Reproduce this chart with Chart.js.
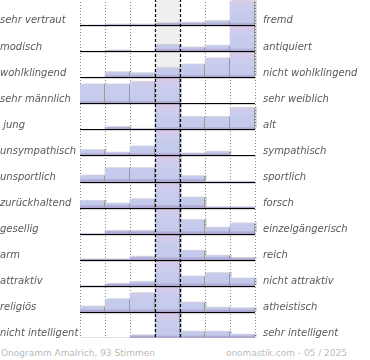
<!DOCTYPE html>
<html>
<head>
<meta charset="utf-8">
<script src="https://cdn.jsdelivr.net/npm/chart.js@4.4.0/dist/chart.umd.min.js"></script>
<style>
    html, body { margin: 0; padding: 0; background: #fff; }
    #wrap { position: relative; width: 370px; height: 360px; overflow: hidden; font-family: "DejaVu Sans", sans-serif; }
    #chart-box { position: absolute; left: 0; top: -1px; width: 370px; height: 339px; }
    .footer { position: absolute; top: 347px; font-size: 9px; line-height: 12px; color: #bbb; white-space: nowrap; }
</style>
</head>
<body>
<div id="wrap">
    <div id="chart-box"><canvas id="onogramm"></canvas></div>
    <div class="footer" style="left:1px">Onogramm Amalrich, 93 Stimmen</div>
    <div class="footer" style="right:23px">onomastik.com - 05 / 2025</div>
</div>
<script>
const COLUMNS = ['1', '2', '3', '4', '5', '6', '7'];

const LEFT_LABELS = [
    'sehr vertraut', 'modisch', 'wohlklingend', 'sehr männlich', ' jung',
    'unsympathisch', 'unsportlich', 'zurückhaltend', 'gesellig', 'arm',
    'attraktiv', 'religiös', 'nicht intelligent'
];

const RIGHT_LABELS = [
    'fremd', 'antiquiert', 'nicht wohlklingend', 'sehr weiblich', 'alt',
    'sympathisch', 'sportlich', 'forsch', 'einzelgängerisch', 'reich',
    'nicht attraktiv', 'atheistisch', 'sehr intelligent'
];

// share of votes per column (percent), one array per row
const VALUES = [
    [0, 0.8, 0.8, 2.6, 3.5, 6.2, 37],
    [0, 1, 0, 9.2, 5.7, 8.2, 48],
    [0, 7.7, 6.2, 13.8, 19.5, 29, 45],
    [29, 29, 33, 52, 0, 0, 0],
    [0, 3.5, 0.8, 55, 19, 19, 33],
    [8.2, 4.2, 13.8, 58, 3, 5.7, 0],
    [9.2, 20.5, 20.5, 48, 8.2, 0, 0],
    [10.3, 6.2, 12.8, 50, 15.4, 0.8, 0.8],
    [0, 4.2, 4.2, 46, 21, 9.2, 15.8],
    [0.8, 0.8, 4.6, 50, 13.8, 6.2, 2.6],
    [0, 3, 6.2, 47, 14.3, 19.5, 11.2],
    [8.2, 19.5, 28.8, 42, 14.3, 6.6, 5.7],
    [0, 0, 4.2, 53, 9.7, 9.7, 5]
];

const SCALE_MAX = 40;      // percent that fills a whole row
const ROWS = VALUES.length;
const LABEL_OFFSET = 0.16; // labels sit just above each row's baseline
const MIDDLE = 3;

function rowBase(i) {
    return ROWS - 1 - i;
}

function barColor(ctx) {
    const chart = ctx.chart;
    if (!chart.chartArea) return '#c6cbeb';
    const y = chart.scales.y;
    const base = rowBase(ctx.datasetIndex);
    const top = y.getPixelForValue(base + 1);
    const bottom = y.getPixelForValue(base);
    const g = chart.ctx.createLinearGradient(0, top, 0, bottom);
    g.addColorStop(0, '#dec9e7');
    g.addColorStop(0.18, '#d3cbea');
    g.addColorStop(0.4, '#c8cdee');
    g.addColorStop(0.89, '#c3c9ea');
    g.addColorStop(0.92, '#b6b3dc');
    g.addColorStop(1, '#a9a0cd');
    return g;
}

const datasets = VALUES.map((row, i) => ({
    label: LEFT_LABELS[i],
    data: row.map(v => [rowBase(i), rowBase(i) + Math.min(v, SCALE_MAX) / SCALE_MAX]),
    xAxisID: 'x',
    yAxisID: 'y',
    backgroundColor: barColor,
    borderWidth: 0,
    barPercentage: 1,
    categoryPercentage: 1,
    grouped: false
}));

function bars(chart) {
    const out = [];
    chart.data.datasets.forEach((ds, i) => {
        chart.getDatasetMeta(i).data.forEach(el => {
            out.push(el.getProps(['x', 'y', 'base', 'width'], true));
        });
    });
    return out;
}

const gridPlugin = {
    id: 'onoGrid',
    beforeDatasetsDraw(chart) {
        const { ctx, chartArea: a, scales: { x } } = chart;
        const colW = x.width / COLUMNS.length;
        const edge = k => x.left + k * colW;

        ctx.save();
        ctx.fillStyle = '#efeff0';
        ctx.fillRect(edge(MIDDLE), a.top, colW, a.bottom - a.top);

        ctx.strokeStyle = '#8c8c8c';
        ctx.lineWidth = 1;
        ctx.setLineDash([1, 2]);
        for (let k = 0; k <= COLUMNS.length; k++) {
            if (k === MIDDLE || k === MIDDLE + 1) continue;
            const px = Math.round(edge(k)) + 0.5;
            ctx.beginPath();
            ctx.moveTo(px, a.top);
            ctx.lineTo(px, a.bottom);
            ctx.stroke();
        }
        ctx.setLineDash([]);

        // soft drop shadow behind each bar
        ctx.fillStyle = 'rgba(0, 0, 0, 0.14)';
        bars(chart).forEach(b => {
            const h = b.base - b.y;
            if (h <= 0) return;
            ctx.fillRect(b.x - b.width / 2 + 2, b.y - 1, b.width, h);
        });
        ctx.restore();
    },
    afterDatasetsDraw(chart) {
        const { ctx, chartArea: a, scales: { x, y } } = chart;
        const colW = x.width / COLUMNS.length;
        ctx.save();

        // thin separators on the right edge of each bar
        ctx.strokeStyle = '#9a9a9a';
        ctx.lineWidth = 1;
        bars(chart).forEach(b => {
            if (b.base - b.y < 1) return;
            const px = Math.round(b.x + b.width / 2) - 0.5;
            ctx.beginPath();
            ctx.moveTo(px, b.y);
            ctx.lineTo(px, b.base);
            ctx.stroke();
        });

        // baselines
        for (let i = 0; i < ROWS; i++) {
            const py = Math.round(y.getPixelForValue(rowBase(i)));
            ctx.strokeStyle = '#000';
            ctx.beginPath();
            ctx.moveTo(a.left, py + 0.5);
            ctx.lineTo(a.right, py + 0.5);
            ctx.stroke();
            ctx.strokeStyle = 'rgba(0, 0, 0, 0.15)';
            ctx.beginPath();
            ctx.moveTo(a.left + 1, py + 1.5);
            ctx.lineTo(a.right + 1, py + 1.5);
            ctx.stroke();
        }

        // dashed frame of the neutral column
        ctx.strokeStyle = '#000';
        ctx.lineWidth = 1.2;
        ctx.setLineDash([3, 2]);
        [MIDDLE, MIDDLE + 1].forEach(k => {
            const px = Math.round(x.left + k * colW) + 0.5;
            ctx.beginPath();
            ctx.moveTo(px, a.top);
            ctx.lineTo(px, a.bottom);
            ctx.stroke();
        });
        ctx.restore();
    }
};

function labelAxis(position, labels, width, padding) {
    return {
        type: 'linear',
        position: position,
        min: 0,
        max: ROWS,
        grid: { display: false, drawTicks: false },
        border: { display: false },
        afterBuildTicks: scale => {
            scale.ticks = labels.map((l, i) => ({ value: rowBase(i) + LABEL_OFFSET }));
        },
        afterFit: scale => {
            scale.width = width;
            scale.paddingTop = 0;
            scale.paddingBottom = 0;
        },
        ticks: {
            autoSkip: false,
            padding: padding,
            crossAlign: position === 'left' ? 'far' : 'near',
            color: '#595959',
            font: { family: 'DejaVu Sans', size: 10, style: 'italic' },
            callback: (value, index) => labels[index]
        }
    };
}

new Chart(document.getElementById('onogramm'), {
    type: 'bar',
    data: { labels: COLUMNS, datasets: datasets },
    options: {
        responsive: true,
        maintainAspectRatio: false,
        animation: false,
        layout: { padding: 0 },
        plugins: {
            legend: { display: false },
            tooltip: { enabled: false }
        },
        scales: {
            x: { type: 'category', display: false, offset: true },
            y: { type: 'linear', display: false, min: 0, max: ROWS },
            yLeft: labelAxis('left', LEFT_LABELS, 80, 0),
            yRight: labelAxis('right', RIGHT_LABELS, 115, 8)
        }
    },
    plugins: [gridPlugin]
});
</script>
</body>
</html>
